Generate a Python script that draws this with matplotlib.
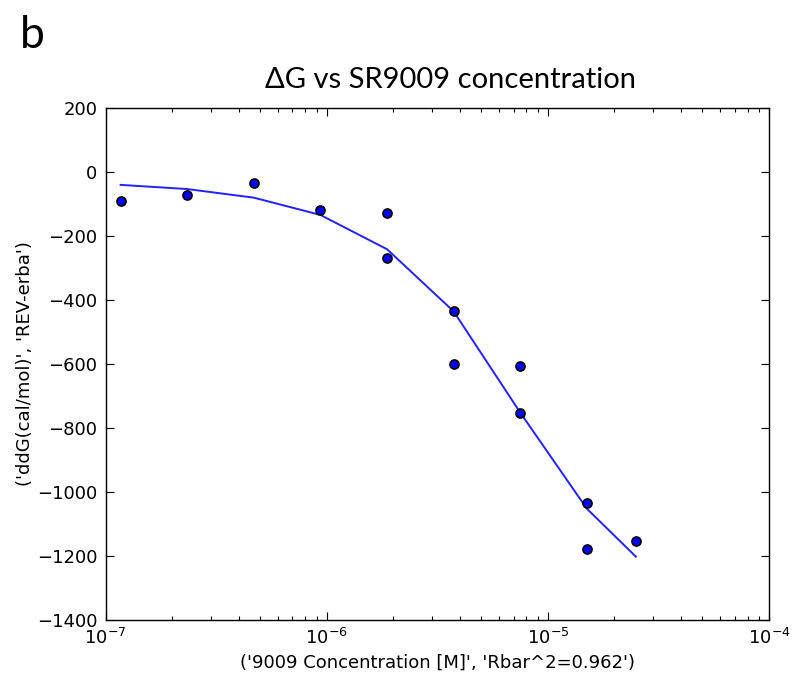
import matplotlib
matplotlib.use("Agg")
import matplotlib.pyplot as plt
from matplotlib.ticker import LogLocator, NullFormatter

# --- data ---
# measured points (two replicates at the higher concentrations)
conc_pts = [1.17e-7, 2.34e-7, 4.69e-7, 9.375e-7,
            1.875e-6, 1.875e-6, 3.75e-6, 3.75e-6,
            7.5e-6, 7.5e-6, 1.5e-5, 1.5e-5, 2.5e-5]
ddg_pts = [-91, -72, -35, -118,
           -128, -268, -436, -599,
           -608, -752, -1033, -1179, -1154]

# fitted curve, one value per concentration
conc_fit = [1.17e-7, 2.34e-7, 4.69e-7, 9.375e-7, 1.875e-6,
            3.75e-6, 7.5e-6, 1.5e-5, 2.5e-5]
ddg_fit = [-41, -54, -81, -135, -242, -436, -752, -1052, -1202]

y_ticks = [200, 0, -200, -400, -600, -800, -1000, -1200, -1400]

title = "\u0394G vs SR9009 concentration"
xlabel = "('9009 Concentration [M]', 'Rbar^2=0.962')"
ylabel = "('ddG(cal/mol)', 'REV-erba')"

# --- figure ---
fig = plt.figure(figsize=(7.94, 6.8), dpi=100)
ax = fig.add_axes([0.1329, 0.0882, 0.8356, 0.7534])

ax.plot(conc_fit, ddg_fit, color="#2222ff", lw=1.4, zorder=2)
ax.plot(conc_pts, ddg_pts, "o", color="#0000ff", markeredgecolor="black",
        markeredgewidth=1.2, markersize=6.5, zorder=3)

ax.set_xscale("log")
ax.set_xlim(1e-7, 1e-4)
ax.set_ylim(-1400, 200)
ax.set_yticks(y_ticks)
ax.xaxis.set_major_locator(LogLocator(base=10, numticks=10))
ax.xaxis.set_minor_locator(LogLocator(base=10, subs=range(2, 10), numticks=20))
ax.xaxis.set_minor_formatter(NullFormatter())

ax.tick_params(which="both", direction="in", top=True, right=True,
               labelsize=13, colors="black")
ax.tick_params(which="major", length=6, width=0.8, pad=6)
ax.tick_params(which="minor", length=3, width=0.8)
for s in ax.spines.values():
    s.set_linewidth(1.0)

ax.set_xlabel(xlabel, fontsize=13, labelpad=4)
ax.set_ylabel(ylabel, fontsize=13)
ax.yaxis.set_label_coords(-0.108, 0.5)

fig.text(0.568, 0.883, title, fontsize=21, ha="center", va="center",
         family=["Lato", "DejaVu Sans"])
fig.text(0.025, 0.948, "b", fontsize=32, ha="left", va="center",
         family=["Lato", "DejaVu Sans"])

fig.savefig("out.png", dpi=100, facecolor="white")
